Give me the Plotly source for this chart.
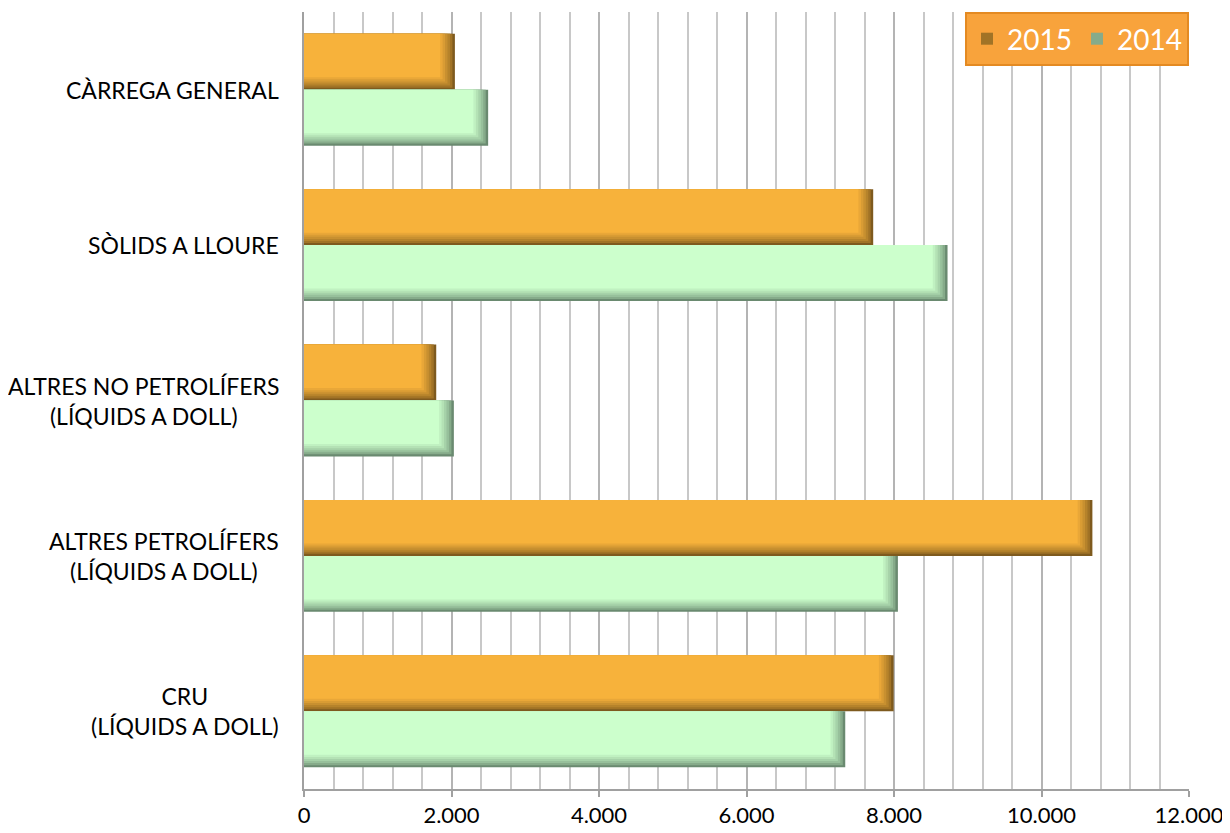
import plotly.graph_objects as go

# Data (categories listed bottom-to-top)
categories = [
    "CRU<br>(LÍQUIDS A DOLL)",
    "ALTRES PETROLÍFERS<br>(LÍQUIDS A DOLL)",
    "ALTRES NO PETROLÍFERS<br>(LÍQUIDS A DOLL)",
    "SÒLIDS A LLOURE",
    "CÀRREGA GENERAL",
]
values_2015 = [7995, 10690, 1793, 7718, 2046]
values_2014 = [7339, 8053, 2032, 8726, 2497]
x_ticks = [0, 2000, 4000, 6000, 8000, 10000, 12000]
x_tick_labels = ["0", "2.000", "4.000", "6.000", "8.000", "10.000", "12.000"]

FONT = "Lato"
BAR_W = 0.36
N_LAYERS = 7
EDGE_X = 200      # shading depth on the right (data units)
EDGE_Y = 0.08     # shading depth at the bottom (category units)


def hex2rgb(h):
    h = h.lstrip("#")
    return [int(h[i:i + 2], 16) for i in (0, 2, 4)]


def lerp(c1, c2, t):
    a, b = hex2rgb(c1), hex2rgb(c2)
    return "rgb(%d,%d,%d)" % tuple(round(a[i] + (b[i] - a[i]) * t) for i in range(3))


series = [
    # name, values, offset, dark, light
    ("2015", values_2015, 0.0, "#7E5A1E", "#F7B23B"),
    ("2014", values_2014, -BAR_W, "#6A8A70", "#CCFFCC"),
]

fig = go.Figure()
for name, vals, off, dark, light in series:
    for i in range(N_LAYERS):
        t = i / (N_LAYERS - 1)
        tt = t ** 0.7
        fig.add_trace(go.Bar(
            y=categories, x=[v - EDGE_X * t for v in vals], orientation="h",
            name=name,
            marker=dict(color=lerp(dark, light, tt), line=dict(width=0)),
            offset=off + EDGE_Y * t, width=BAR_W - EDGE_Y * t,
            showlegend=(i == 1), hoverinfo="skip",
        ))

annotations = []
for c in categories:
    annotations.append(dict(
        xref="paper", yref="y", x=0, y=c, xshift=-23, xanchor="right",
        yanchor="middle", align="center", text=c, showarrow=False,
        font=dict(family=FONT, size=23, color="#000000"),
    ))

fig.update_layout(
    width=1222, height=825,
    margin=dict(l=296, r=41, t=4, b=44, autoexpand=False),
    paper_bgcolor="white", plot_bgcolor="white",
    barmode="overlay",
    font=dict(family=FONT, size=23, color="#000000"),
    xaxis=dict(
        range=[0, 12000], tickvals=x_ticks, ticktext=x_tick_labels,
        showgrid=True, gridcolor="#B4B4B4", gridwidth=1.5,
        minor=dict(dtick=400, showgrid=True, gridcolor="#C8C8C8", gridwidth=1.5, ticks=""),
        showline=True, linecolor="#A0A0A0", linewidth=1.5,
        ticks="outside", ticklen=6, tickcolor="#A0A0A0", tickwidth=1.5,
        automargin=False,
        tickfont=dict(family=FONT, size=22, color="#000000"),
        zeroline=False, fixedrange=True,
    ),
    yaxis=dict(
        categoryorder="array", categoryarray=categories,
        showticklabels=False, showgrid=False, zeroline=False,
        showline=True, linecolor="#A0A0A0", linewidth=1.5, ticks="",
        range=[-0.5, len(categories) - 0.5], automargin=False,
    ),
    legend=dict(
        orientation="h", x=1.0, xanchor="right", y=1.0, yanchor="top",
        bgcolor="#F8A33C", bordercolor="#E48A22", borderwidth=2,
        font=dict(family=FONT, size=28, color="white"),
        traceorder="normal", itemwidth=30,
    ),
    annotations=annotations,
    showlegend=True,
)

fig.write_html("out.html", config={"displayModeBar": False})
